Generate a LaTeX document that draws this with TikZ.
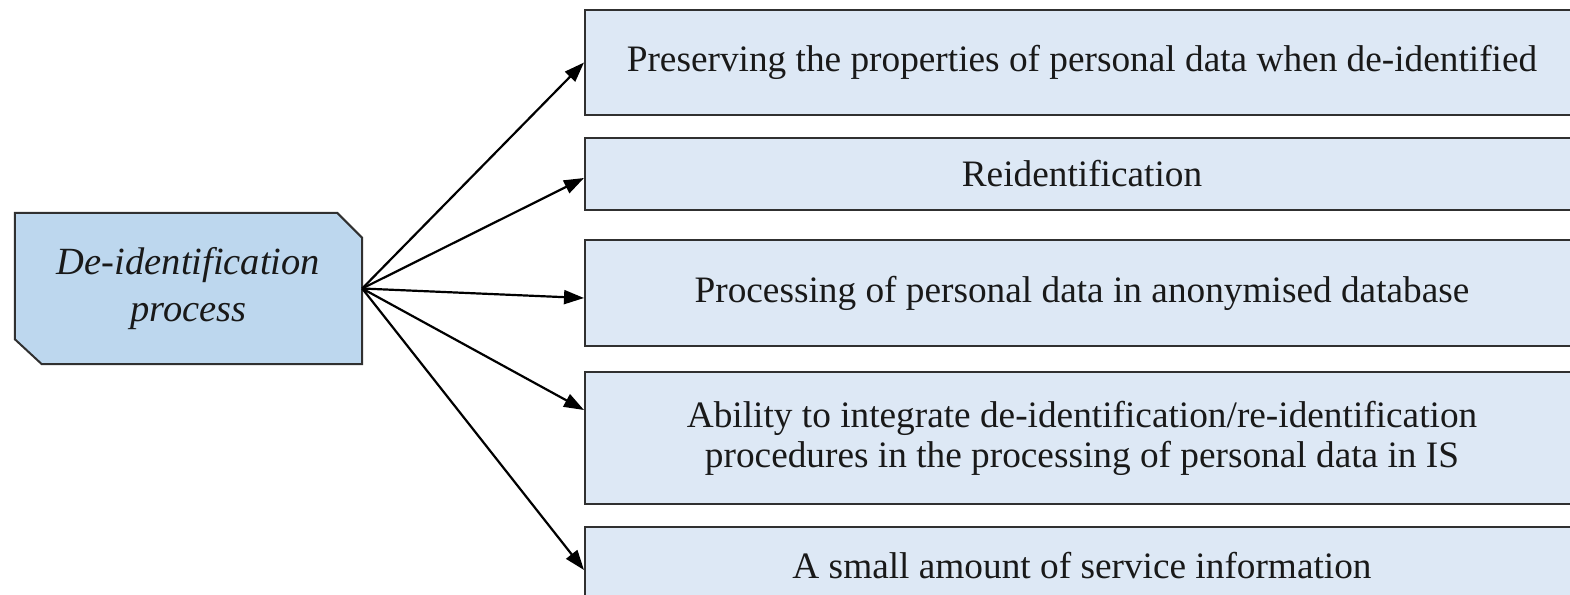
\documentclass[tikz,border=0pt]{standalone}
\usepackage{fontspec}
\setmainfont{Liberation Serif}
\usetikzlibrary{arrows.meta,backgrounds}
\definecolor{srcfill}{HTML}{BDD7EE}
\definecolor{boxfill}{HTML}{DDE8F5}
\definecolor{edge}{HTML}{303030}
\tikzset{
  itembox/.style={draw=edge, line width=2pt, fill=boxfill, minimum width=994pt,
    anchor=west, align=center, inner sep=0pt, text=black!90,
    font=\fontsize{37.3}{40}\selectfont},
  conn/.style={line width=2.2pt, black, -{Triangle[length=20pt,width=14pt]}},
}
\begin{document}
\begin{tikzpicture}[x=1pt,y=-1pt]
\useasboundingbox (0,0) rectangle (1570,594);
\clip (0,0) rectangle (1570,594);
% source node
\node[minimum width=347pt, minimum height=151pt, inner sep=0pt, align=center,
  text=black!90, font=\fontsize{38.5}{47}\selectfont\itshape] (src) at (188.5,288.5)
  {De-identification\\process};
\begin{scope}[on background layer]
\draw[draw=edge, line width=2pt, fill=srcfill]
  (src.north west) -- ([xshift=-25pt]src.north east) -- ([yshift=-25pt]src.north east)
  -- (src.south east) -- ([xshift=27pt]src.south west) -- ([yshift=25pt]src.south west) -- cycle;
\end{scope}
% target boxes
\node[itembox, minimum height=105pt] (b1) at (584,62.5)
  {Preserving the properties of personal data when de-identified};
\node[itembox, minimum height=72pt] (b2) at (584,174)
  {Reidentification};
\node[itembox, minimum height=106pt] (b3) at (584,293)
  {Processing of personal data in anonymised database};
\node[itembox, minimum height=132pt] (b4) at (584,438)
  {Ability to integrate de-identification/re-identification\\procedures in the processing of personal data in IS};
\node[itembox, minimum height=78pt] (b5) at (584,566)
  {A small amount of service information};
% connectors
\draw[conn] (src.east) -- (b1.west);
\draw[conn] (src.east) -- ([yshift=-4pt]b2.west);
\draw[conn] (src.east) -- ([yshift=-5pt]b3.west);
\draw[conn] (src.east) -- ([yshift=28pt]b4.west);
\draw[conn] (src.east) -- ([yshift=-4pt]b5.west);
\end{tikzpicture}
\end{document}
